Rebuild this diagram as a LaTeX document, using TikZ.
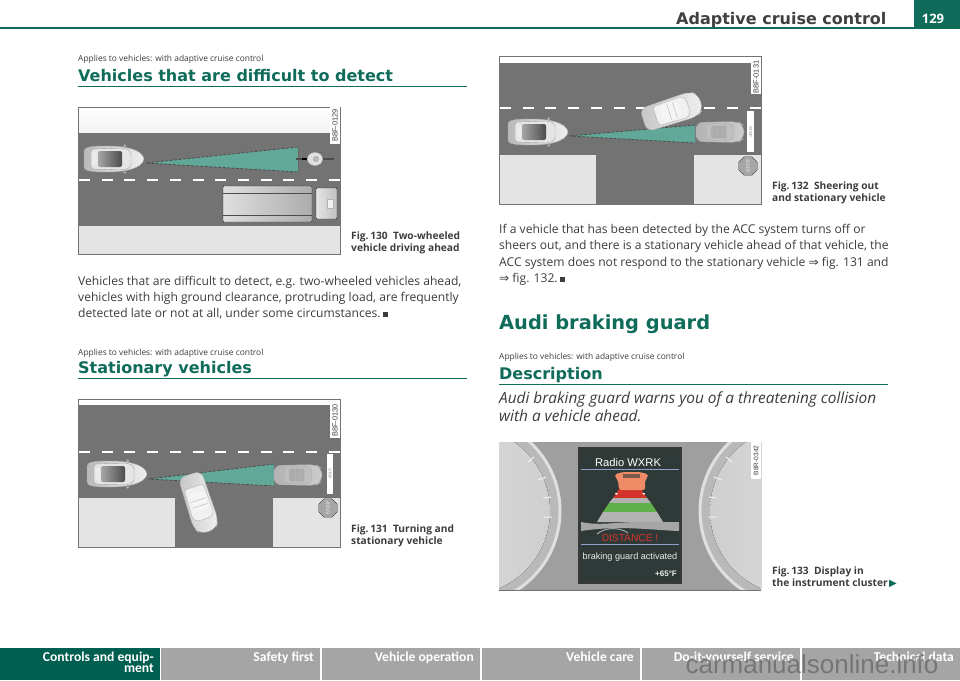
\documentclass[tikz,border=0pt]{standalone}
\usepackage{fontspec}
\setmainfont{Open Sans}
\newfontfamily\headfont{DejaVu Sans}
\newfontfamily\tabfont{Carlito}
\newfontfamily\labelfont{Liberation Sans}
\usetikzlibrary{shapes.geometric}

\definecolor{audiTeal}{HTML}{0F6B5A}
\definecolor{tabTeal}{HTML}{005F50}
\definecolor{tabGrey}{HTML}{A5A5A5}
\definecolor{roadGrey}{HTML}{737373}
\definecolor{kerbGrey}{HTML}{E4E4E4}
\definecolor{radarTeal}{HTML}{62A899}
\definecolor{bodyText}{HTML}{3C3C3C}
\definecolor{screenDark}{HTML}{2F3A38}
\definecolor{guardRed}{HTML}{D2342C}
\definecolor{guardGreen}{HTML}{5FB04A}
\definecolor{guardOrange}{HTML}{EE8A66}
\definecolor{guardBlue}{HTML}{8FA3C8}

\tikzset{
  body/.style={anchor=base west,inner sep=0pt,text=bodyText,font=\fontsize{12.1}{14}\selectfont},
  applies/.style={anchor=base west,inner sep=0pt,text=bodyText,font=\fontsize{8.4}{9}\selectfont},
  heading/.style={anchor=base west,inner sep=0pt,text=audiTeal,font=\headfont\bfseries\fontsize{16}{17}\selectfont},
  caption/.style={anchor=base west,inner sep=0pt,text=bodyText,font=\bfseries\fontsize{10.2}{11}\selectfont},
  tablabel/.style={anchor=base east,inner sep=0pt,text=white,font=\tabfont\bfseries\fontsize{13.6}{14}\selectfont},
  codelabel/.style={rotate=90,inner sep=0pt,text=bodyText,font=\labelfont\fontsize{7.4}{8}\selectfont},
  stoplabel/.style={rotate=-90,inner sep=0pt,text=gray,font=\labelfont\fontsize{4}{5}\selectfont},
  panel/.style={draw=gray!90!black,line width=.7pt},
  lanedash/.style={draw=white,line width=2pt,dash pattern=on 11pt off 11.7pt},
  radaredge/.style={draw=black!70,line width=.8pt,dash pattern=on 3pt off 1.5pt},
  sign/.style={regular polygon,regular polygon sides=8,draw=gray!40!black,fill=gray!70,minimum size=20pt,inner sep=0pt,rotate=90,
    text=white,font=\labelfont\fontsize{4.5}{5}\selectfont},
  pics/egocar/.style={code={
    \path[left color=gray!55,right color=gray!12,draw=gray!60,line width=.4pt] (-30,-8) .. controls (-30,-12) and (-22,-13) .. (-8,-13)
      .. controls (10,-13) and (28,-10) .. (30,0) .. controls (28,10) and (10,13) .. (-8,13)
      .. controls (-22,13) and (-30,12) .. (-30,8) -- cycle;
    \path[fill=gray!20,draw=gray!70,line width=.4pt,rounded corners=3pt] (-23,-10) -- (10,-11) -- (17,-8) -- (17,8) -- (10,11) -- (-23,10) -- cycle;
    \path[left color=black!35,right color=black!70,rounded corners=2pt] (-16,-8) rectangle (8,8);
    \fill[white!85!gray,rounded corners=1pt] (-21,-6) rectangle (-17,6);
    \fill[gray!50] (9,-12.5) -- (11,-15) -- (12,-12.5) -- cycle;
    \fill[gray!50] (9,12.5) -- (11,15) -- (12,12.5) -- cycle;
  }},
  pics/sedan/.style n args={4}{code={
    \path[left color=#1,right color=#2,draw=gray!60,line width=.4pt,rounded corners=7pt] (-30,-12) -- (22,-13) -- (30,-8) -- (30,8) -- (22,13) -- (-30,12) -- cycle;
    \path[fill=#3,draw=gray!60,line width=.4pt,rounded corners=3pt] (-17,-10) -- (14,-11) -- (17,-6) -- (17,6) -- (14,11) -- (-17,10) -- cycle;
    \fill[#4,rounded corners=2pt] (-11,-8) rectangle (8,8);
    \draw[gray!60,line width=.4pt] (-3,-8) -- (-3,8) (3,-8) -- (3,8);
  }}
}

\begin{document}
\begin{tikzpicture}[x=1pt,y=-1pt]
  \useasboundingbox (0,0) rectangle (960,680);
  \fill[white] (0,0) rectangle (960,680);

  % page head
  \fill[audiTeal] (0,27) rectangle (914,29);
  \fill[audiTeal] (914,0) rectangle (960,29);
  \node (chapter) at (676,24) [anchor=base west,inner sep=0pt,text=black!75,font=\headfont\bfseries\fontsize{16}{17}\selectfont] {Adaptive cruise control};
  \node (pagenum) at (933,19) [inner sep=0pt,text=white,font=\bfseries\fontsize{13}{15}\selectfont] {129};

  % fig 130
  \fill[top color=white,bottom color=gray!10] (78,107) rectangle (340,133);
  \fill[roadGrey] (78,133) rectangle (340,226);
  \fill[kerbGrey] (78,226) rectangle (340,254);
  \draw[lanedash] (79,180) -- (340,180);
  \fill[radarTeal] (146,163) -- (298,147) -- (298,172) -- cycle;
  \draw[radaredge] (298,147) -- (146,163) -- (298,172);
  \draw[black!60,line width=.6pt] (298,147) -- (298,172);
  \pic at (114,159) {egocar};
  % motorcycle
  \draw[black!70,line width=2pt] (296,159) -- (334,159);
  \draw[black,line width=2.5pt] (302,159) -- (310,159);
  \path[fill=gray!25,draw=black!60,line width=.4pt] (315,159) ellipse (8 and 7);
  \path[fill=gray!55,draw=white,line width=.5pt] (316,159) ellipse (4 and 4);
  % truck
  \path[left color=gray!25,right color=gray!65,draw=gray!30!black,line width=.4pt,rounded corners=1pt] (223,186) rectangle (312,222);
  \draw[gray!60!black,line width=.7pt] (223,193) -- (312,193) (223,215) -- (312,215);
  \path[left color=gray!20,right color=gray!50,draw=gray!30!black,line width=.4pt,rounded corners=1pt] (316,188) rectangle (337,219);
  \path[fill=gray!10,draw=gray!60,line width=.4pt] (327,199) rectangle (333,208);
  \draw[panel] (78,107) rectangle (340,254);
  \fill[white] (330,107) rectangle (340,144);
  \node (codeA) at (335,125.5) [codelabel] {B8F-0129};

  % fig 131
  \fill[roadGrey] (78,405) rectangle (340,547);
  \fill[kerbGrey] (78,498) rectangle (175,547);
  \fill[kerbGrey] (273,498) rectangle (340,547);
  \draw[lanedash] (79,452) -- (340,452);
  \fill[radarTeal] (148,479) -- (274,464) -- (274,486) -- cycle;
  \draw[radaredge] (274,464) -- (148,479) -- (274,486);
  \pic at (117,474) {egocar};
  \pic[scale=.8] at (298,475) {sedan={gray!60}{gray!40}{gray!50}{gray!65}};
  \pic[rotate=-72] at (199,503) {sedan={gray!45}{gray!12}{gray!12}{gray!8}};
  \fill[white] (327,454) rectangle (333,494);
  \node (stoplineA) at (330,474) [stoplabel] {STOP};
  \node (signA) at (328,508) [sign] {STOP};
  \draw[panel] (78,399) rectangle (340,547);
  \fill[white] (330,403) rectangle (340,438);
  \node (codeB) at (335,420.5) [codelabel] {B8F-0130};

  % fig 132
  \fill[roadGrey] (499,63) rectangle (761,204);
  \fill[kerbGrey] (499,155) rectangle (596,204);
  \fill[kerbGrey] (694,155) rectangle (761,204);
  \draw[lanedash] (500,108) -- (761,108);
  \fill[radarTeal] (569,136) -- (695,125) -- (695,143) -- cycle;
  \draw[radaredge] (695,125) -- (569,136) -- (695,143);
  \pic at (538,132) {egocar};
  \pic[scale=.8] at (720,132) {sedan={gray!60}{gray!40}{gray!50}{gray!65}};
  \pic[rotate=18] at (672,111) {sedan={gray!45}{gray!12}{gray!12}{gray!8}};
  \fill[white] (747,111) rectangle (754,152);
  \node (stoplineB) at (750.5,131.5) [stoplabel] {STOP};
  \node (signB) at (748,166) [sign] {STOP};
  \draw[panel] (499,56) rectangle (761,204);
  \fill[white] (751,60) rectangle (761,94);
  \node (codeC) at (756,77) [codelabel] {B8F-0131};

  % fig 133
  \begin{scope}
    \clip (499,442) rectangle (761,590);
    \fill[gray!75] (499,442) rectangle (761,590);
    \path[fill=gray!55,draw=gray!25,line width=3pt] (466,511) circle (94);
    \fill[left color=gray!22,right color=gray!38] (466,511) circle (84);
    \path[fill=gray!55,draw=gray!25,line width=3pt] (794,511) circle (94);
    \fill[left color=gray!38,right color=gray!22] (794,511) circle (84);
    \draw[white!90!gray,line width=1pt] (534,457) -- (528,462) (546,477) -- (538,480) (551,497) -- (543,498) (552,517) -- (543,517);
    \draw[white!90!gray,line width=1pt] (726,457) -- (732,462) (714,477) -- (722,480) (709,497) -- (717,498) (708,517) -- (717,517);
  \end{scope}
  \path[fill=screenDark,draw=gray!45!black,line width=1.5pt] (579,448) rectangle (681,583);
  \node (radio) at (628,462) [inner sep=0pt,text=white,font=\labelfont\fontsize{11.2}{14}\selectfont] {Radio WXRK};
  \draw[guardBlue,line width=1pt] (581,469.5) -- (679,469.5) (581,544.5) -- (679,544.5);
  % warning bars
  \fill[guardRed] (619,489) -- (641,489) -- (647,498) -- (613,498) -- cycle;
  \fill[gray!60] (613,498) -- (647,498) -- (651,503) -- (609,503) -- cycle;
  \fill[guardGreen] (609,503) -- (651,503) -- (657,512) -- (603,512) -- cycle;
  \fill[gray!60] (603,512) -- (657,512) -- (663,522) -- (597,522) -- cycle;
  % car ahead
  \path[fill=guardOrange,rounded corners=2pt] (619,490) -- (618,480) -- (615,477) -- (615,474) -- (620,473) -- (623,472) -- (640,472) -- (643,473) -- (648,474) -- (648,477) -- (645,480) -- (645,490) -- cycle;
  \fill[screenDark!60!guardOrange] (623,474) rectangle (640,478);
  \fill[white] (615,493) -- (618,493) -- (616,495) -- cycle (645,493) -- (642,493) -- (644,495) -- cycle;
  % road bend
  \fill[gray!70] (581,522) .. controls (600,526) and (615,522) .. (640,522) -- (679,522) -- (679,531) .. controls (650,530) and (620,525) .. (581,531) -- cycle;
  \draw[gray!70,line width=1pt] (597,534) .. controls (605,527) and (620,527) .. (628,533);
  \node (distance) at (630,538) [inner sep=0pt,text=guardRed,font=\labelfont\fontsize{10.2}{12}\selectfont] {DISTANCE !};
  \node (activated) at (630,557) [inner sep=0pt,text=white!85!gray,font=\labelfont\fontsize{9.1}{10}\selectfont] {braking guard activated};
  \node (temp) at (666,574) [inner sep=0pt,text=white!85!gray,font=\labelfont\bfseries\fontsize{8}{10}\selectfont] {+65°F};
  \draw[panel] (499,590) -- (761,590);
  \fill[white] (751,442) rectangle (761,479);
  \node (codeD) at (756,460.5) [codelabel,font=\labelfont\fontsize{6.6}{8}\selectfont] {B8R-0342};

  % left column text
  \node (appliesA) at (78,61) [applies] {Applies to vehicles: with adaptive cruise control};
  \node (headA) at (78,81) [heading] {Vehicles that are difficult to detect};
  \fill[audiTeal] (78,85.6) rectangle (467,86.4);
  \node (capA1) at (351,239) [caption] {Fig.\,130\ \ Two-wheeled};
  \node (capA2) at (351,251) [caption] {vehicle driving ahead};
  \node (textA1) at (78,285) [body] {Vehicles that are difficult to detect, e.g. two-wheeled vehicles ahead,};
  \node (textA2) at (78,301) [body] {vehicles with high ground clearance, protruding load, are frequently};
  \node (textA3) at (78,317) [body] {detected late or not at all, under some circumstances.\,\rule{5pt}{5pt}};
  \node (appliesB) at (78,355) [applies] {Applies to vehicles: with adaptive cruise control};
  \node (headB) at (78,373) [heading] {Stationary vehicles};
  \fill[audiTeal] (78,377.6) rectangle (467,378.4);
  \node (capB1) at (351,532) [caption] {Fig.\,131\ \ Turning and};
  \node (capB2) at (351,544) [caption] {stationary vehicle};

  % right column text
  \node (capC1) at (772,189) [caption] {Fig.\,132\ \ Sheering out};
  \node (capC2) at (772,201) [caption] {and stationary vehicle};
  \node (textC1) at (499,233) [body] {If a vehicle that has been detected by the ACC system turns off or};
  \node (textC2) at (499,249) [body] {sheers out, and there is a stationary vehicle ahead of that vehicle, the};
  \node (textC3) at (499,266) [body] {ACC system does not respond to the stationary vehicle {\headfont ⇒} fig. 131 and};
  \node (textC4) at (499,282) [body] {{\headfont ⇒} fig. 132.\,\rule{5pt}{5pt}};
  \node (headC) at (499,329) [anchor=base west,inner sep=0pt,text=audiTeal,font=\headfont\bfseries\fontsize{19.4}{22}\selectfont] {Audi braking guard};
  \node (appliesC) at (499,359) [applies] {Applies to vehicles: with adaptive cruise control};
  \node (headD) at (499,379) [heading] {Description};
  \fill[audiTeal] (499,383.6) rectangle (888,384.4);
  \node (introA) at (499,403) [anchor=base west,inner sep=0pt,text=bodyText,font=\itshape\fontsize{15.4}{18}\selectfont] {Audi braking guard warns you of a threatening collision};
  \node (introB) at (499,421) [anchor=base west,inner sep=0pt,text=bodyText,font=\itshape\fontsize{15.4}{18}\selectfont] {with a vehicle ahead.};
  \node (capD1) at (772,574) [caption] {Fig.\,133\ \ Display in};
  \node (capD2) at (772,586) [caption] {the instrument cluster};
  \node (nextmark) at (893,586) [anchor=base,inner sep=0pt,text=audiTeal,font=\headfont\fontsize{10}{10}\selectfont] {▶};

  % tabs at the foot
  \fill[tabTeal] (0,648) rectangle (160,680);
  \foreach \xa/\xb in {161/320,322/480,482/640,642/800,802/960}
    \fill[tabGrey] (\xa,648) rectangle (\xb,680);
  \node (tabA1) at (154,661) [tablabel] {Controls and equip-};
  \node (tabA2) at (154,672.5) [tablabel] {ment};
  \node (tabB) at (314,661) [tablabel] {Safety first};
  \node (tabC) at (474,661) [tablabel] {Vehicle operation};
  \node (tabD) at (634,661) [tablabel] {Vehicle care};
  \node (tabE) at (794,661) [tablabel] {Do-it-yourself service};
  \node (tabF) at (954,661) [tablabel] {Technical data};
  \node (watermark) at (812,664) [inner sep=0pt,text=black!60,opacity=.75,font=\labelfont\fontsize{26}{27}\selectfont] {carmanualsonline.info};
\end{tikzpicture}
\end{document}
